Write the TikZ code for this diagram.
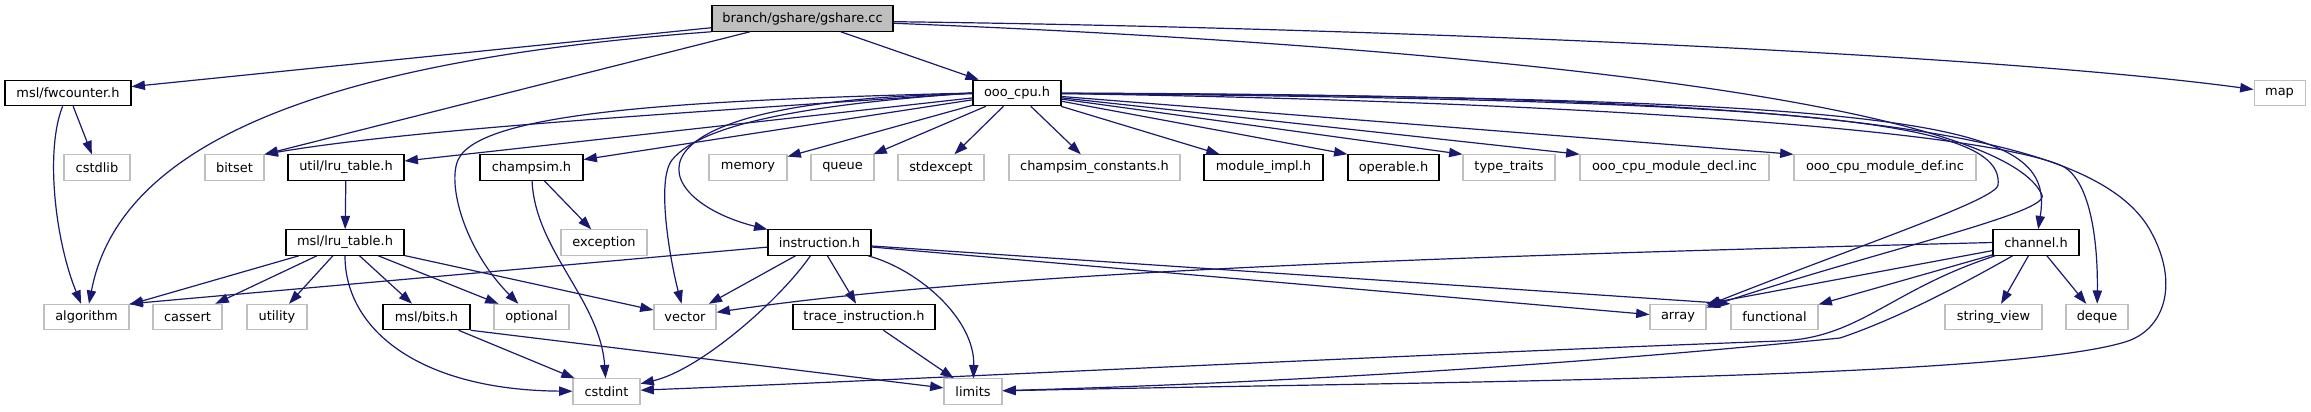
\documentclass[tikz,border=0pt]{standalone}
\usepackage{fontspec}
\setmainfont{DejaVu Sans}
\usetikzlibrary{arrows.meta}
\definecolor{EdgeNavy}{RGB}{25,25,112}
\definecolor{BoxGray}{RGB}{191,191,191}

\begin{document}
\begin{tikzpicture}[x=0.75pt,y=-0.75pt,
        base/.style={rectangle,inner xsep=1pt,inner ysep=0pt,minimum height=19pt,
                     font=\fontsize{9.7}{11}\selectfont},
        root/.style={base,draw=black,line width=0.9pt,fill=BoxGray},
        hdr/.style={base,draw=black,line width=0.9pt,fill=white},
        sys/.style={base,draw=BoxGray,line width=0.8pt,fill=white},
        wd/.style={minimum width=#1*0.75pt},
        arr/.style={draw=EdgeNavy,line width=0.9pt,-{Triangle[length=10pt,width=7pt]}}
      ]
        \useasboundingbox[fill=white] (0,0) rectangle (2311,411);
        \node[root,wd=181] (gs) at (802.5,18.5) {branch/gshare/gshare.cc};
        \node[hdr,wd=126]  (fwc) at (68,93) {msl/fwcounter.h};
        \node[hdr,wd=88]   (ooo) at (1017,93) {ooo\_cpu.h};
        \node[sys,wd=51]   (map) at (2279.5,93) {map};
        \node[sys,wd=66]   (cstdlib) at (97,167.5) {cstdlib};
        \node[sys,wd=59]   (bitset) at (234.5,167.5) {bitset};
        \node[hdr,wd=116]  (ulru) at (346,167.5) {util/lru\_table.h};
        \node[hdr,wd=103]  (champ) at (531.5,167.5) {champsim.h};
        \node[sys,wd=78]   (memory) at (748,167.5) {memory};
        \node[sys,wd=63]   (queue) at (842.5,167.5) {queue};
        \node[sys,wd=86]   (stdexc) at (941,167.5) {stdexcept};
        \node[sys,wd=171]  (consts) at (1094.5,167.5) {champsim\_constants.h};
        \node[hdr,wd=119]  (modimpl) at (1263.5,167.5) {module\_impl.h};
        \node[hdr,wd=91]   (operable) at (1393.5,167.5) {operable.h};
        \node[sys,wd=92]   (traits) at (1509,167.5) {type\_traits};
        \node[sys,wd=189]  (decl) at (1674.5,167.5) {ooo\_cpu\_module\_decl.inc};
        \node[sys,wd=182]  (def) at (1885,167.5) {ooo\_cpu\_module\_def.inc};
        \node[hdr,wd=118]  (mlru) at (345,242.5) {msl/lru\_table.h};
        \node[sys,wd=86]   (except) at (604,242.5) {exception};
        \node[hdr,wd=103]  (instr) at (819.5,242.5) {instruction.h};
        \node[hdr,wd=86]   (chan) at (2036,242.5) {channel.h};
        \node[sys,wd=85]   (algo) at (86.5,317) {algorithm};
        \node[sys,wd=69]   (cassert) at (187.5,317) {cassert};
        \node[sys,wd=60]   (utility) at (277,317) {utility};
        \node[hdr,wd=87]   (bits) at (426.5,317) {msl/bits.h};
        \node[sys,wd=75]   (optional) at (531.5,317) {optional};
        \node[sys,wd=62]   (vector) at (685,317) {vector};
        \node[hdr,wd=142]  (trace) at (864,317) {trace\_instruction.h};
        \node[sys,wd=56]   (array) at (1678,317) {array};
        \node[sys,wd=87]   (func) at (1774.5,317) {functional};
        \node[sys,wd=97]   (strview) at (1993.5,317) {string\_view};
        \node[sys,wd=62]   (deque) at (2097,317) {deque};
        \node[sys,wd=67]   (cstdint) at (606.5,391.5) {cstdint};
        \node[sys,wd=58]   (limits) at (973,391.5) {limits};
        % gshare.cc
        \draw[arr] (gs)--(fwc);
        \draw[arr] (gs.south west) .. controls (330,60) and (120,140) .. (algo);
        \draw[arr] (gs)--(bitset.north east);
        \draw[arr] (gs)--(ooo);
        \draw[arr] (gs.-2) .. controls (1400,28) and (2000,55) .. (map);
        \draw[arr] (gs.-3) .. controls (1450,45) and (2000,100) .. (2042,195)
                   .. controls (2050,213) and (1880,250) .. (array);
        % fwcounter.h
        \draw[arr] (fwc)--(cstdlib);
        \draw[arr] (fwc) .. controls (45,150) and (55,240) .. (algo);
        % ooo_cpu.h
        \draw[arr] (ooo.west) .. controls (700,112) and (420,128) .. (bitset.north east);
        \draw[arr] (ooo)--(ulru);
        \draw[arr] (ooo)--(champ);
        \draw[arr] (ooo.west) .. controls (700,100) and (480,110) .. (458,160)
                   .. controls (447,185) and (465,250) .. (optional);
        \draw[arr] (ooo.west) .. controls (800,105) and (700,125) .. (672,160)
                   .. controls (656,180) and (670,260) .. (vector);
        \draw[arr] (ooo) .. controls (600,100) and (650,200) .. (instr);
        \draw[arr] (ooo)--(memory);
        \draw[arr] (ooo)--(queue);
        \draw[arr] (ooo)--(stdexc);
        \draw[arr] (ooo)--(consts);
        \draw[arr] (ooo)--(modimpl);
        \draw[arr] (ooo)--(operable.north west);
        \draw[arr] (ooo)--(traits.north west);
        \draw[arr] (ooo)--(decl.north west);
        \draw[arr] (ooo)--(def.north west);
        \draw[arr] (ooo) .. controls (1950,98) and (2055,125) .. (chan);
        \draw[arr] (ooo) .. controls (1500,100) and (1960,125) .. (2060,165)
                   .. controls (2090,177) and (2098,240) .. (deque);
        \draw[arr] (ooo) .. controls (1800,100) and (2005,120) .. (1998,185)
                   .. controls (1996,200) and (1860,245) .. (array);
        \draw[arr] (ooo) .. controls (1800,95) and (2090,125) .. (2150,230)
                   .. controls (2180,283) and (2165,330) .. (2125,342)
                   .. controls (2000,380) and (1400,382) .. (limits);
        % msl/lru_table.h
        \draw[arr] (ulru)--(mlru);
        \draw[arr] (mlru)--(algo);
        \draw[arr] (mlru)--(cassert);
        \draw[arr] (mlru)--(utility);
        \draw[arr] (mlru)--(bits);
        \draw[arr] (mlru)--(optional);
        \draw[arr] (mlru)--(vector);
        \draw[arr] (mlru) .. controls (345,330) and (420,390) .. (cstdint);
        % champsim.h, msl/bits.h
        \draw[arr] (champ)--(except);
        \draw[arr] (champ) .. controls (535,250) and (600,300) .. (cstdint);
        \draw[arr] (bits)--(cstdint);
        \draw[arr] (bits.south east)--(limits);
        % instruction.h
        \draw[arr] (instr)--(algo.north east);
        \draw[arr] (instr)--(vector);
        \draw[arr] (instr) .. controls (780,300) and (700,370) .. (cstdint);
        \draw[arr] (instr)--(trace);
        \draw[arr] (instr) .. controls (920,270) and (975,320) .. (limits);
        \draw[arr] (instr)--(array);
        \draw[arr] (instr)--(func.north west);
        \draw[arr] (trace)--(limits);
        % channel.h
        \draw[arr] (chan.west) .. controls (1500,255) and (1000,270) .. (vector);
        \draw[arr] (chan)--(array.north east);
        \draw[arr] (chan)--(func);
        \draw[arr] (chan) .. controls (1890,290) and (1860,338) .. (1780,341)
                   .. controls (1400,355) and (900,380) .. (cstdint);
        \draw[arr] (chan) .. controls (1970,280) and (1900,318) .. (1840,338)
                   .. controls (1500,372) and (1200,385) .. (limits);
        \draw[arr] (chan)--(strview);
        \draw[arr] (chan)--(deque);
      \end{tikzpicture}
\end{document}
